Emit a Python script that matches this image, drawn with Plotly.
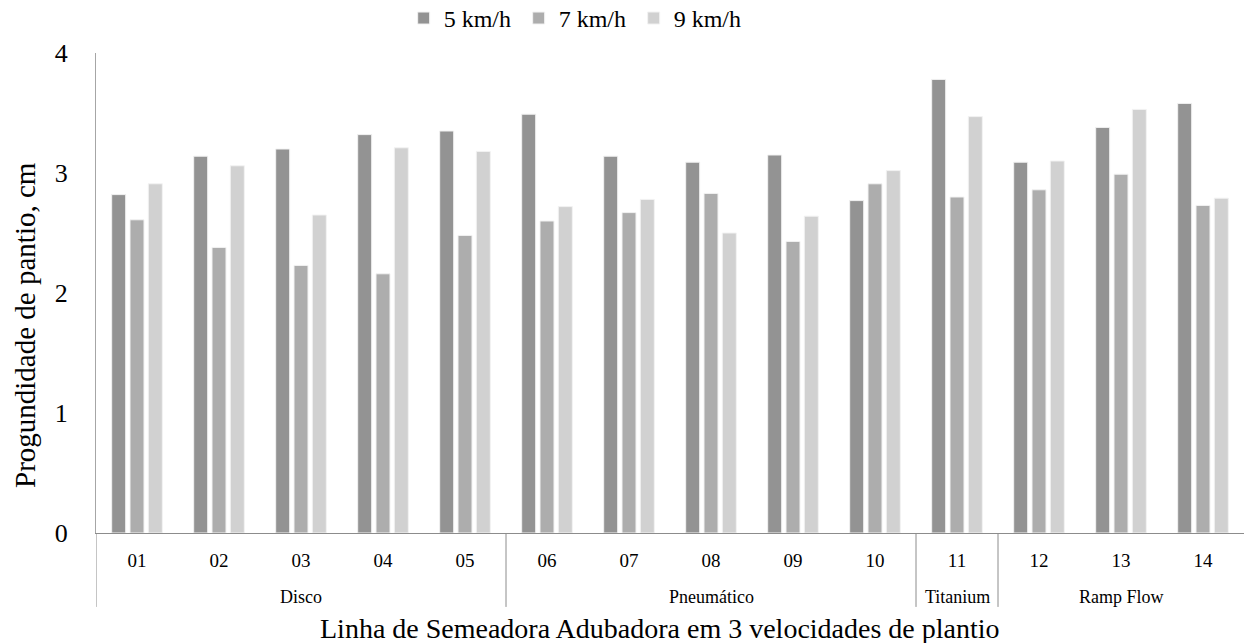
import plotly.graph_objects as go

labels = ["01", "02", "03", "04", "05", "06", "07", "08", "09", "10", "11", "12", "13", "14"]
groups = ["Disco"] * 5 + ["Pneumático"] * 5 + ["Titanium"] + ["Ramp Flow"] * 3
v5 = [2.82, 3.14, 3.20, 3.32, 3.35, 3.49, 3.14, 3.09, 3.15, 2.77, 3.78, 3.09, 3.38, 3.58]
v7 = [2.61, 2.38, 2.23, 2.16, 2.48, 2.60, 2.67, 2.83, 2.43, 2.91, 2.80, 2.86, 2.99, 2.73]
v9 = [2.91, 3.06, 2.65, 3.21, 3.18, 2.72, 2.78, 2.50, 2.64, 3.02, 3.47, 3.10, 3.53, 2.79]
series_names = ["5 km/h", "7 km/h", "9 km/h"]
colors = ["#939393", "#adadad", "#d1d1d1"]

FONT = "Liberation Serif, Times New Roman, serif"

fig = go.Figure()
for name, vals, col in zip(series_names, [v5, v7, v9], colors):
    fig.add_trace(go.Bar(
        x=labels, y=vals, name=name,
        marker=dict(color=col, line=dict(color="#f2f2f2", width=1)),
    ))

# group labels and dividers
annotations = []
shapes = []
order = []
for idx, g in enumerate(groups):
    if not order or order[-1][0] != g:
        order.append([g, idx, idx])
    else:
        order[-1][2] = idx
for g, a, b in order:
    annotations.append(dict(
        x=(a + b) / 2, y=-0.133, xref="x", yref="paper", text=g, showarrow=False,
        font=dict(family=FONT, size=18, color="black"), xanchor="center", yanchor="middle"))
    shapes.append(dict(type="line", xref="x", yref="paper", x0=a - 0.5, x1=a - 0.5,
                       y0=0, y1=-0.154, line=dict(color="#8c8c8c", width=1)))

annotations.append(dict(
    x=0.491, y=-0.198, xref="paper", yref="paper",
    text="Linha de Semeadora Adubadora em 3 velocidades de plantio", showarrow=False,
    font=dict(family=FONT, size=28, color="black"), xanchor="center", yanchor="middle"))
annotations.append(dict(
    x=-0.062, y=0.433, xref="paper", yref="paper", text="Progundidade de pantio, cm",
    showarrow=False, textangle=-90,
    font=dict(family=FONT, size=29, color="black"), xanchor="center", yanchor="middle"))

fig.update_layout(
    width=1244, height=643,
    margin=dict(l=96, r=0, t=53, b=110, autoexpand=False),
    paper_bgcolor="white", plot_bgcolor="white",
    barmode="group", bargap=0.33, bargroupgap=0.235,
    font=dict(family=FONT, color="black"),
    showlegend=True,
    legend=dict(orientation="h", x=0.268, xanchor="left", y=1.072, yanchor="middle",
                entrywidth=70, entrywidthmode="pixels",
                font=dict(family=FONT, size=24, color="black"), bgcolor="rgba(0,0,0,0)"),
    annotations=annotations,
    shapes=shapes,
)
fig.update_xaxes(
    type="category", showline=True, linecolor="#8c8c8c", linewidth=1,
    showgrid=False, zeroline=False, ticks="", ticklabelstandoff=10, automargin=False,
    tickfont=dict(family=FONT, size=19, color="black"),
    range=[-0.5, 13.5],
)
fig.update_yaxes(
    range=[0, 4], tickvals=[0, 1, 2, 3, 4], showline=True, linecolor="#a6a6a6", linewidth=1,
    showgrid=False, zeroline=False, ticks="", ticklabelstandoff=22, automargin=False,
    tickfont=dict(family=FONT, size=26, color="black"),
)

fig.write_html("out.html", config={"displayModeBar": False},
               post_script="document.body.style.margin='0';document.body.style.overflow='hidden';")
